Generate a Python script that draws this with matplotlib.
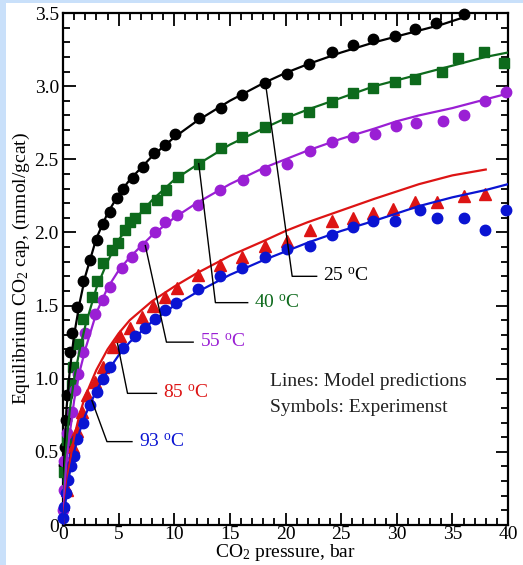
import numpy as np
import matplotlib
matplotlib.use('Agg')
import matplotlib.pyplot as plt
from matplotlib.patches import Rectangle

plt.rcParams['font.family'] = ['Liberation Serif', 'DejaVu Serif']
plt.rcParams['mathtext.fontset'] = 'custom'
plt.rcParams['mathtext.rm'] = 'Liberation Serif'
plt.rcParams['mathtext.it'] = 'Liberation Serif:italic'
plt.rcParams['mathtext.default'] = 'regular'

# ---- experimental points (symbols) ----
p25 = [0.09, 0.18, 0.27, 0.36, 0.63, 0.81, 1.26, 1.8, 2.43, 3.06, 3.6, 4.2, 4.85, 5.39, 6.29, 7.19,
       8.18, 9.17, 10.07, 12.2, 14.2, 16.1, 18.2, 20.1, 22.1, 24.2, 26.1, 27.9, 29.8, 31.6, 33.5, 36.0]
q25 = [0.41, 0.53, 0.72, 0.89, 1.18, 1.31, 1.49, 1.67, 1.81, 1.95, 2.06, 2.14, 2.235, 2.30, 2.37, 2.45,
       2.54, 2.60, 2.67, 2.78, 2.85, 2.94, 3.02, 3.08, 3.15, 3.23, 3.28, 3.32, 3.34, 3.39, 3.43, 3.49]

p40 = [0.05, 0.36, 0.81, 0.9, 1.35, 1.8, 2.6, 3.06, 3.6, 4.4, 4.94, 5.57, 6.0, 6.5, 7.4, 8.45, 9.3,
       10.3, 12.2, 14.2, 16.1, 18.2, 20.1, 22.1, 24.2, 26.1, 27.9, 29.8, 31.6, 34.1, 35.5, 37.8, 39.6]
q40 = [0.36, 0.58, 0.96, 1.08, 1.24, 1.41, 1.56, 1.67, 1.79, 1.88, 1.93, 2.02, 2.07, 2.10, 2.17, 2.22, 2.29,
       2.38, 2.47, 2.58, 2.65, 2.72, 2.78, 2.82, 2.89, 2.95, 2.99, 3.03, 3.05, 3.10, 3.19, 3.23, 3.16]

p55 = [0.0, 0.05, 0.1, 0.36, 0.81, 1.08, 1.35, 1.8, 1.98, 2.9, 3.6, 4.2, 5.3, 6.2, 7.2, 8.3, 9.2, 10.25,
       12.1, 14.1, 16.2, 18.2, 20.1, 22.2, 24.2, 26.1, 28.0, 29.9, 31.7, 34.2, 36.0, 37.9, 39.8]
q55 = [0.10, 0.24, 0.44, 0.63, 0.77, 0.92, 1.03, 1.18, 1.31, 1.44, 1.54, 1.63, 1.76, 1.83, 1.91, 2.0, 2.07, 2.12,
       2.19, 2.29, 2.36, 2.43, 2.47, 2.56, 2.62, 2.65, 2.67, 2.73, 2.75, 2.76, 2.80, 2.90, 2.96]

p85 = [0.36, 0.9, 1.26, 1.7, 2.16, 2.9, 3.6, 4.5, 5.1, 6.0, 7.1, 8.1, 9.2, 10.25, 12.1, 14.1, 16.1,
       18.2, 20.1, 22.2, 24.2, 26.1, 27.9, 29.7, 31.6, 33.6, 36.0, 37.9]
q85 = [0.24, 0.53, 0.64, 0.77, 0.89, 0.98, 1.08, 1.22, 1.29, 1.35, 1.42, 1.50, 1.56, 1.62, 1.71, 1.78, 1.83,
       1.91, 1.94, 2.02, 2.08, 2.10, 2.13, 2.16, 2.21, 2.21, 2.25, 2.26]

p93 = [0.0, 0.09, 0.27, 0.45, 0.72, 0.99, 1.26, 1.8, 2.43, 3.06, 3.6, 4.2, 5.4, 6.5, 7.4, 8.3, 9.2, 10.2,
       12.1, 14.1, 16.1, 18.2, 20.1, 22.2, 24.2, 26.1, 27.9, 29.8, 32.1, 33.6, 36.0, 37.9, 39.8]
q93 = [0.05, 0.12, 0.22, 0.31, 0.40, 0.47, 0.59, 0.70, 0.82, 0.91, 1.0, 1.08, 1.21, 1.29, 1.35, 1.41, 1.47, 1.52,
       1.61, 1.70, 1.76, 1.83, 1.89, 1.91, 1.98, 2.04, 2.08, 2.08, 2.15, 2.10, 2.10, 2.02, 2.15]

# ---- model predictions (lines) ----
lx25 = [0, 0.1, 0.3, 0.6, 1, 1.5, 2, 3, 4, 5, 6, 8, 10, 12, 15, 18, 20, 22, 25, 28, 30, 32, 34, 36]
ly25 = [0, 0.42, 0.78, 1.05, 1.30, 1.52, 1.70, 1.96, 2.13, 2.26, 2.36, 2.52, 2.65, 2.76, 2.90, 3.02,
        3.09, 3.15, 3.23, 3.30, 3.34, 3.38, 3.42, 3.47]
lx40 = [0, 0.1, 0.3, 0.6, 1, 1.5, 2, 3, 4, 5, 6, 8, 10, 12, 15, 18, 20, 22, 25, 28, 30, 32, 35, 38, 40]
ly40 = [0, 0.3, 0.55, 0.78, 1.0, 1.2, 1.36, 1.62, 1.80, 1.95, 2.05, 2.22, 2.36, 2.46, 2.60, 2.71, 2.78,
        2.84, 2.92, 3.0, 3.04, 3.08, 3.14, 3.20, 3.23]
lx55 = [0, 0.1, 0.3, 0.6, 1, 1.5, 2, 3, 4, 5, 6, 8, 10, 12, 15, 18, 20, 22, 25, 28, 30, 32, 35, 38, 40]
ly55 = [0, 0.2, 0.42, 0.62, 0.85, 1.05, 1.2, 1.45, 1.62, 1.74, 1.83, 1.98, 2.10, 2.20, 2.33, 2.44, 2.50,
        2.56, 2.64, 2.71, 2.76, 2.80, 2.85, 2.91, 2.95]
lx85 = [0, 0.2, 0.5, 1, 1.5, 2, 3, 4, 5, 6, 8, 10, 12, 15, 18, 20, 22, 25, 28, 30, 32, 35, 38]
ly85 = [0, 0.18, 0.38, 0.6, 0.76, 0.88, 1.06, 1.2, 1.31, 1.40, 1.53, 1.63, 1.72, 1.84, 1.94, 2.01,
        2.07, 2.15, 2.23, 2.28, 2.33, 2.39, 2.43]
lx93 = [0, 0.2, 0.5, 1, 1.5, 2, 3, 4, 5, 6, 8, 10, 12, 15, 18, 20, 22, 25, 28, 30, 32, 35, 38, 40]
ly93 = [0, 0.14, 0.32, 0.5, 0.64, 0.75, 0.92, 1.05, 1.16, 1.25, 1.39, 1.50, 1.59, 1.71, 1.81, 1.87,
        1.93, 2.01, 2.08, 2.13, 2.18, 2.24, 2.29, 2.33]

labels = ['25 $^{o}$C', '40 $^{o}$C', '55 $^{o}$C', '85 $^{o}$C', '93 $^{o}$C']
colors = ['black', '#0d6a1c', '#9a1fd4', '#dd1414', '#0a14d2']

# leader lines: start on curve -> elbow -> end, label just after end
leaders = [
    [(18.2, 3.02), (20.6, 1.70), (22.8, 1.70)],
    [(12.2, 2.47), (13.7, 1.52), (16.6, 1.52)],
    [(7.4, 1.91), (9.3, 1.25), (11.7, 1.25)],
    [(4.9, 1.24), (5.8, 0.90), (8.4, 0.90)],
    [(2.6, 0.85), (3.95, 0.57), (6.2, 0.57)],
]

fig = plt.figure(figsize=(5.23, 5.65), dpi=100)
fig.patch.set_facecolor('white')
fig.patches.append(Rectangle((0, 0), 6 / 523, 1, transform=fig.transFigure,
                             facecolor='#c9e0fa', edgecolor='none', zorder=0))
fig.patches.append(Rectangle((0, 1 - 3 / 565), 1, 3 / 565, transform=fig.transFigure,
                             facecolor='#c9e0fa', edgecolor='none', zorder=0))

ax = fig.add_axes([63 / 523, 1 - 525 / 565, 445 / 523, 512 / 565])

series = [(lx25, ly25, p25, q25, 'o', 7.5),
          (lx40, ly40, p40, q40, 's', 7.0),
          (lx55, ly55, p55, q55, 'o', 7.5),
          (lx85, ly85, p85, q85, '^', 8.0),
          (lx93, ly93, p93, q93, 'o', 7.5)]

for (lx, ly, px, py, mk, ms), c in zip(series, colors):
    ax.plot(px, py, mk, color=c, ms=ms, mec=c, zorder=3, clip_on=False)
    ax.plot(lx, ly, '-', color=c, lw=1.6, zorder=4)

for pts, lab, c in zip(leaders, labels, colors):
    xs = [p[0] for p in pts]
    ys = [p[1] for p in pts]
    ax.plot(xs, ys, '-', color='black', lw=1.0, zorder=5)
    ax.text(xs[-1] + 0.6, ys[-1], lab, color=c, fontsize=14, va='center', ha='left')

ax.text(18.6, 0.98, 'Lines: Model predictions', fontsize=14, color='#222222', va='center')
ax.text(18.6, 0.80, 'Symbols: Experimenst', fontsize=14, color='#222222', va='center')

ax.set_xlim(0, 40)
ax.set_ylim(0, 3.5)
ax.set_xticks(np.arange(0, 41, 5))
ax.set_xticklabels(['0', '5', '10', '15', '20', '25', '30', '35', '40'])
ax.set_xticks(np.arange(0, 41, 1), minor=True)
ax.set_yticks(np.arange(0, 3.51, 0.5))
ax.set_yticklabels(['0', '0.5', '1.0', '1.5', '2.0', '2.5', '3.0', '3.5'])
ax.set_yticks(np.arange(0, 3.51, 0.1), minor=True)
ax.tick_params(which='both', direction='in', top=True, right=True, width=1.3,
               labelsize=14, pad=3)
ax.tick_params(axis='x', which='both', pad=1)
ax.tick_params(which='major', length=9)
ax.tick_params(which='minor', length=5)
for s in ax.spines.values():
    s.set_linewidth(1.6)

ax.set_xlabel('CO$_2$ pressure, bar', fontsize=14, labelpad=-1)
ax.set_ylabel('Equilibrium CO$_2$ cap, (mmol/gcat)', fontsize=14, labelpad=2)

fig.savefig('out.png', dpi=100)
